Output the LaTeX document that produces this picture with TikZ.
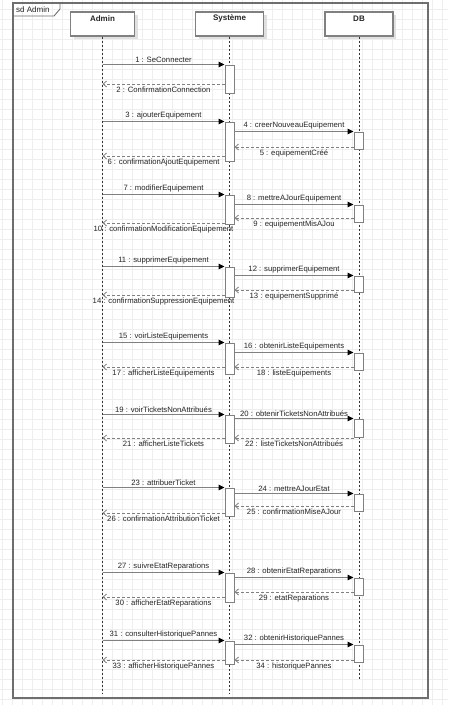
\documentclass[tikz,border=0pt]{standalone}
\usepackage{fontspec}
\setmainfont{Liberation Sans}
\usetikzlibrary{arrows.meta,shadows}
\definecolor{gridc}{HTML}{EEEEEE}
\definecolor{linec}{HTML}{808080}
\definecolor{framec}{HTML}{6E6E6E}
\definecolor{txtc}{HTML}{262626}
\begin{document}
\begin{tikzpicture}[x=1pt,y=-1pt,
  font=\fontsize{7.7}{9}\selectfont,
  head/.style={rectangle, draw=linec, line width=1.4pt, fill=white, minimum height=24, inner sep=0,
    drop shadow={shadow xshift=3pt, shadow yshift=-3pt, fill=black!12, opacity=1}},
  headtxt/.style={font=\fontsize{8}{9}\selectfont\bfseries, text=txtc, inner sep=0},
  life/.style={draw=black!80, line width=0.6pt, dash pattern=on 2pt off 2pt},
  actbox/.style={rectangle, draw=linec, line width=1pt, fill=white, minimum width=9, inner sep=0},
  call/.style={draw=linec, line width=1pt, -{Triangle[length=6pt,width=5.5pt,color=black]}},
  ret/.style={draw=linec, line width=0.8pt, dash pattern=on 3pt off 2pt, -{Straight Barb[length=3.5pt,width=6pt]}},
  labA/.style={midway, above, inner sep=1.6pt, text=txtc},
  labB/.style={midway, below, inner sep=2.2pt, text=txtc}]
\useasboundingbox (0,0) rectangle (448,705);
\fill[white] (0,0) rectangle (448,705);
% grid
\foreach \i in {0,...,44} \draw[gridc, line width=0.6pt] ({2.7+10*\i},0) -- ({2.7+10*\i},705);
\foreach \j in {0,...,69} \draw[gridc, line width=0.6pt] (0,{9.3+10*\j}) -- (448,{9.3+10*\j});
% frame
\draw[framec, line width=1.1pt] (13,3) rectangle (428,698);
\draw[framec, line width=0.9pt] (13,16) -- (54,16) -- (60,9) -- (60,3);
\node[anchor=west, inner sep=0, font=\fontsize{8}{9}\selectfont, text=txtc] (sd) at (16,9.5) {sd Admin};
% heads
\node[head, minimum width=64] (admin) at (102.5,24) {};
\node[head, minimum width=68] (sys) at (229.5,24) {};
\node[head, minimum width=68] (db) at (359,24) {};
\node[headtxt] (adminT) at ([yshift=-7.5pt]admin.north) {Admin};
\node[headtxt] (sysT) at ([yshift=-7.5pt]sys.north) {Système};
\node[headtxt] (dbT) at ([yshift=-7.5pt]db.north) {DB};
% lifelines
\coordinate (adminEnd) at (102.5,693);
\coordinate (sysEnd) at (229.5,693);
\coordinate (dbEnd) at (359,679);
\draw[life] (admin.south) -- (adminEnd);
\draw[life] (sys.south) -- (sysEnd);
\draw[life] (db.south) -- (dbEnd);
% activations
\node[actbox, minimum height=28] (s1) at (229.5,79) {};
\node[actbox, minimum height=39] (s2) at (229.5,141.5) {};
\node[actbox, minimum height=29] (s3) at (229.5,209.5) {};
\node[actbox, minimum height=30] (s4) at (229.5,282) {};
\node[actbox, minimum height=31] (s5) at (229.5,358.5) {};
\node[actbox, minimum height=28] (s6) at (229.5,429) {};
\node[actbox, minimum height=28] (s7) at (229.5,502) {};
\node[actbox, minimum height=29] (s8) at (229.5,587.5) {};
\node[actbox, minimum height=23] (s9) at (229.5,652.5) {};
\node[actbox, minimum height=17] (d2) at (358.5,140.5) {};
\node[actbox, minimum height=17] (d3) at (358.5,213.5) {};
\node[actbox, minimum height=16] (d4) at (358.5,284) {};
\node[actbox, minimum height=17] (d5) at (358.5,361.5) {};
\node[actbox, minimum height=18] (d6) at (358.5,428) {};
\node[actbox, minimum height=17] (d7) at (358.5,502.5) {};
\node[actbox, minimum height=17] (d8) at (358.5,586.5) {};
\node[actbox, minimum height=17] (d9) at (358.5,653.5) {};
% return levels
\coordinate (m2) at (0,84);
\coordinate (m5) at (0,147);
\coordinate (m6) at (0,156);
\coordinate (m9) at (0,218);
\coordinate (m10) at (0,223);
\coordinate (m13) at (0,290);
\coordinate (m14) at (0,295);
\coordinate (m17) at (0,367);
\coordinate (m21) at (0,438);
\coordinate (m25) at (0,506);
\coordinate (m26) at (0,513);
\coordinate (m29) at (0,592);
\coordinate (m30) at (0,597);
\coordinate (m33) at (0,660);
% block 1
\draw[call] (admin.south |- s1.north) -- (s1.north west) node[labA] {1 : SeConnecter};
\draw[ret] (s1.west |- m2) -- (admin.south |- m2) node[labB] {2 : ConfirmationConnection};
% block 2
\draw[call] (admin.south |- s2.north) -- (s2.north west) node[labA] {3 : ajouterEquipement};
\draw[call] (s2.east |- d2.north) -- (d2.north west) node[labA] {4 : creerNouveauEquipement};
\draw[ret] (d2.west |- m5) -- (s2.east |- m5) node[labB] {5 : equipementCréé};
\draw[ret] (s2.west |- m6) -- (admin.south |- m6) node[labB] {6 : confirmationAjoutEquipement};
% block 3
\draw[call] (admin.south |- s3.north) -- (s3.north west) node[labA] {7 : modifierEquipement};
\draw[call] (s3.east |- d3.north) -- (d3.north west) node[labA] {8 : mettreAJourEquipement};
\draw[ret] (d3.west |- m9) -- (s3.east |- m9) node[labB] {9 : equipementMisAJou};
\draw[ret] (s3.west |- m10) -- (admin.south |- m10) node[labB] {10 : confirmationModificationEquipement};
% block 4
\draw[call] (admin.south |- s4.north) -- (s4.north west) node[labA] {11 : supprimerEquipement};
\draw[call] (s4.east |- d4.north) -- (d4.north west) node[labA] {12 : supprimerEquipement};
\draw[ret] (d4.west |- m13) -- (s4.east |- m13) node[labB] {13 : equipementSupprimé};
\draw[ret] (s4.west |- m14) -- (admin.south |- m14) node[labB] {14 : confirmationSuppressionEquipement};
% block 5
\draw[call] (admin.south |- s5.north) -- (s5.north west) node[labA] {15 : voirListeEquipements};
\draw[call] (s5.east |- d5.north) -- (d5.north west) node[labA] {16 : obtenirListeEquipements};
\draw[ret] (s5.west |- m17) -- (admin.south |- m17) node[labB] {17 : afficherListeEquipements};
\draw[ret] (d5.west |- m17) -- (s5.east |- m17) node[labB] {18 : listeEquipements};
% block 6
\draw[call] (admin.south |- s6.north) -- (s6.north west) node[labA] {19 : voirTicketsNonAttribués};
\draw[call] (s6.east |- d6.north) -- (d6.north west) node[labA] {20 : obtenirTicketsNonAttribués};
\draw[ret] (s6.west |- m21) -- (admin.south |- m21) node[labB] {21 : afficherListeTickets};
\draw[ret] (d6.west |- m21) -- (s6.east |- m21) node[labB] {22 : listeTicketsNonAttribués};
% block 7
\draw[call] (admin.south |- s7.north) -- (s7.north west) node[labA] {23 : attribuerTicket};
\draw[call] (s7.east |- d7.north) -- (d7.north west) node[labA] {24 : mettreAJourEtat};
\draw[ret] (d7.west |- m25) -- (s7.east |- m25) node[labB] {25 : confirmationMiseAJour};
\draw[ret] (s7.west |- m26) -- (admin.south |- m26) node[labB] {26 : confirmationAttributionTicket};
% block 8
\draw[call] (admin.south |- s8.north) -- (s8.north west) node[labA] {27 : suivreEtatReparations};
\draw[call] (s8.east |- d8.north) -- (d8.north west) node[labA] {28 : obtenirEtatReparations};
\draw[ret] (d8.west |- m29) -- (s8.east |- m29) node[labB] {29 : etatReparations};
\draw[ret] (s8.west |- m30) -- (admin.south |- m30) node[labB] {30 : afficherEtatReparations};
% block 9
\draw[call] (admin.south |- s9.north) -- (s9.north west) node[labA] {31 : consulterHistoriquePannes};
\draw[call] (s9.east |- d9.north) -- (d9.north west) node[labA] {32 : obtenirHistoriquePannes};
\draw[ret] (s9.west |- m33) -- (admin.south |- m33) node[labB] {33 : afficherHistoriquePannes};
\draw[ret] (d9.west |- m33) -- (s9.east |- m33) node[labB] {34 : historiquePannes};
\end{tikzpicture}
\end{document}
